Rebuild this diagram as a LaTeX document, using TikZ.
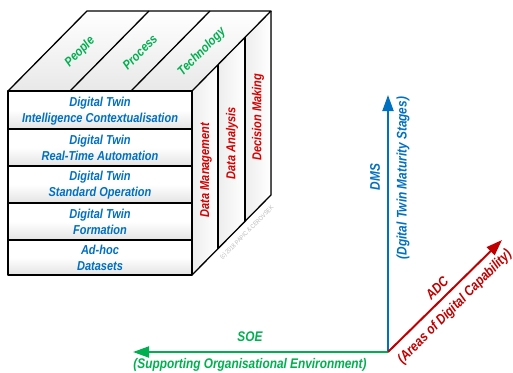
\documentclass[tikz,border=0pt]{standalone}
\usepackage{fontspec}
\setmainfont{Liberation Sans}[FakeStretch=0.85]
\usetikzlibrary{arrows.meta}
\definecolor{dtblue}{RGB}{0,112,192}
\definecolor{dtgreen}{RGB}{0,176,80}
\definecolor{dtred}{RGB}{192,0,0}
\definecolor{txtred}{RGB}{215,0,0}
\begin{document}
\begin{tikzpicture}[x=1bp,y=-1bp,
  edge/.style={line width=1.3bp, black, line join=round},
  rowfill/.style={top color=white, bottom color=gray!22, middle color=white},
  topfill/.style={top color=white, bottom color=gray!18},
  sidefill/.style={left color=gray!14, right color=white},
  rowtxt/.style={font=\fontsize{13}{16}\selectfont\bfseries\itshape, text=dtblue, align=center, inner sep=0pt},
  toptxt/.style={font=\fontsize{13}{16}\selectfont\bfseries\itshape, text=dtgreen, rotate=45, inner sep=0pt},
  sidetxt/.style={font=\fontsize{13}{16}\selectfont\bfseries\itshape, text=txtred, rotate=90, inner sep=0pt},
  axtxt/.style={font=\fontsize{14}{17}\selectfont\bfseries\itshape, inner sep=0pt},
  axis/.style={line width=2bp, -{Triangle[length=16bp,width=11bp]}}
]
\useasboundingbox (0,0) rectangle (513,372);

% ---- top face strips
\fill[topfill] (8,91) -- (70,91) -- (149,11) -- (87,11) -- cycle;
\fill[topfill] (70,91) -- (131,91) -- (210,11) -- (149,11) -- cycle;
\fill[topfill] (131,91) -- (192,91) -- (271,11) -- (210,11) -- cycle;
% ---- right face strips
\fill[sidefill] (192,91) -- (218,64.7) -- (218,248.7) -- (192,275) -- cycle;
\fill[sidefill] (218,64.7) -- (245,37.3) -- (245,221.3) -- (218,248.7) -- cycle;
\fill[sidefill] (245,37.3) -- (271,11) -- (271,195) -- (245,221.3) -- cycle;
% ---- front rows
\foreach \ya/\yb in {91/129,129/166,166/203,203/240,240/275}{
  \fill[rowfill] (8,\ya) rectangle (192,\yb);
  \draw[edge] (8,\ya) rectangle (192,\yb);
}
% ---- outlines
\draw[edge] (8,91) -- (87,11) -- (271,11) -- (192,91);
\draw[edge] (70,91) -- (149,11);
\draw[edge] (131,91) -- (210,11);
\draw[edge] (271,11) -- (271,195) -- (192,275);
\draw[edge] (218,64.7) -- (218,248.7);
\draw[edge] (245,37.3) -- (245,221.3);

% ---- top texts
\node[toptxt] (people) at (80,52) {People};
\node[toptxt] (process) at (140,52) {Process};
\node[toptxt] (technology) at (202,52) {Technology};

% ---- row texts
\node[rowtxt] (r1) at (100,111) {Digital Twin\\Intelligence Contextualisation};
\node[rowtxt] (r2) at (100,148) {Digital Twin\\Real-Time Automation};
\node[rowtxt] (r3) at (100,185) {Digital Twin\\Standard Operation};
\node[rowtxt] (r4) at (100,222) {Digital Twin\\Formation};
\node[rowtxt] (r5) at (100,258) {Ad-hoc\\Datasets};

% ---- side texts
\node[sidetxt] (dm) at (206,170) {Data Management};
\node[sidetxt] (da) at (232,143) {Data Analysis};
\node[sidetxt] (dmk) at (258,117) {Decision Making};

% ---- copyright
\node[font=\fontsize{6.3}{7}\selectfont, text=gray!55, rotate=45, inner sep=0pt] (copy) at (247,233) {(c) 2018 PAPIC \& CEROVSEK};

% ---- axes
\coordinate (O) at (388,352);
\coordinate (dmsTip) at (388,95);
\coordinate (soeTip) at (133,352);
\coordinate (adcTip) at (502,240);
\draw[axis, dtblue] (O) -- (dmsTip);
\draw[axis, dtgreen] (O) -- (soeTip);
\draw[axis, dtred] (O) -- (adcTip);

\node[axtxt, text=dtgreen] (soe) at (250,337) {SOE};
\node[axtxt, text=dtgreen] (soefull) at (250,365) {(Supporting Organisational Environment)};
\node[axtxt, text=dtblue, rotate=90] (dms) at (375,177) {DMS};
\node[axtxt, text=dtblue, rotate=90] (dmsfull) at (403,178) {(Dgital Twin Maturity Stages)};
\node[axtxt, text=dtred, rotate=45] (adc) at (437,288) {ADC};
\node[axtxt, text=dtred, rotate=45] (adcfull) at (455,307) {(Areas of Digital Capability)};
\end{tikzpicture}
\end{document}
